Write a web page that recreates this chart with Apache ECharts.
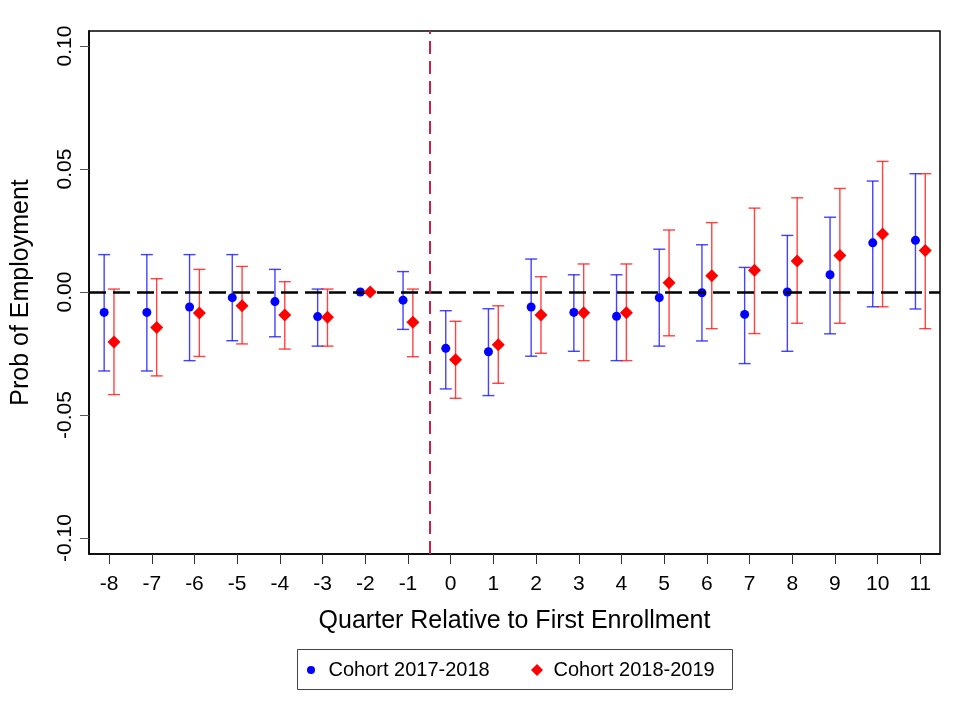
<!DOCTYPE html>
<html><head><meta charset="utf-8">
<script src="https://cdn.jsdelivr.net/npm/echarts@6/dist/echarts.min.js"></script>
<style>html,body{margin:0;padding:0;background:#fff}#chart{width:956px;height:706px}</style>
</head><body><div id="chart"></div>
<script>
// Quarters relative to first enrollment
const quarters = [-8,-7,-6,-5,-4,-3,-2,-1,0,1,2,3,4,5,6,7,8,9,10,11];
// Cohort 2017-2018 (blue)
const cohortA_est  = [-0.0083,-0.0083,-0.0061,-0.0023,-0.0039,-0.0100,0,-0.0033,-0.0229,-0.0243,-0.0061,-0.0083,-0.0099,-0.0023,-0.0003,-0.0091,0.0000,0.0070,0.0200,0.0210];
const cohortA_low  = [-0.0321,-0.0321,-0.0279,-0.0198,-0.0182,-0.0220,0,-0.0152,-0.0394,-0.0421,-0.0261,-0.0241,-0.0279,-0.0220,-0.0199,-0.0291,-0.0241,-0.0170,-0.0060,-0.0069];
const cohortA_high = [0.0152,0.0152,0.0152,0.0152,0.0092,0.0012,0,0.0083,-0.0076,-0.0068,0.0134,0.0070,0.0070,0.0174,0.0192,0.0100,0.0230,0.0304,0.0451,0.0481];
// Cohort 2018-2019 (red)
const cohortB_est  = [-0.0203,-0.0144,-0.0085,-0.0056,-0.0093,-0.0103,0,-0.0123,-0.0275,-0.0214,-0.0093,-0.0084,-0.0084,0.0038,0.0066,0.0088,0.0126,0.0148,0.0236,0.0169];
const cohortB_low  = [-0.0417,-0.0341,-0.0262,-0.0211,-0.0232,-0.0220,0,-0.0263,-0.0432,-0.0371,-0.0249,-0.0279,-0.0279,-0.0178,-0.0149,-0.0169,-0.0127,-0.0127,-0.0060,-0.0149];
const cohortB_high = [0.0012,0.0054,0.0092,0.0104,0.0042,0.0012,0,0.0012,-0.0119,-0.0056,0.0062,0.0114,0.0114,0.0252,0.0282,0.0341,0.0383,0.0421,0.0531,0.0481];
// Tick labels
const yTicks = [-0.10,-0.05,0.00,0.05,0.10];
const xTicks = quarters;
const seriesNames = ['Cohort 2017-2018','Cohort 2018-2019'];
const zeroLine = 0;
const enrollLine = -0.5;

const FONT = "'Liberation Sans', Arial, Helvetica, sans-serif";
const OFF = 0.115;
const BLUE = '#0000ff', RED = '#ff0000';

function errorBars(name, lo, hi, offset, color, z) {
  return {
    type: 'custom', name: name, z: z, silent: true,
    data: quarters.map((q, i) => [q + offset, lo[i], hi[i]]),
    encode: { x: 0, y: [1, 2] },
    renderItem: function (params, api) {
      const x = api.value(0), l = api.value(1), h = api.value(2);
      if (l === h) return null;
      const a = api.coord([x, l]), b = api.coord([x, h]);
      const cw = 6;
      const st = { stroke: color, lineWidth: 1.4 };
      return { type: 'group', children: [
        { type: 'line', shape: { x1: a[0], y1: a[1], x2: b[0], y2: b[1] }, style: st },
        { type: 'line', shape: { x1: a[0] - cw, y1: a[1], x2: a[0] + cw, y2: a[1] }, style: st },
        { type: 'line', shape: { x1: b[0] - cw, y1: b[1], x2: b[0] + cw, y2: b[1] }, style: st }
      ]};
    }
  };
}

const chart = echarts.init(document.getElementById('chart'), null, { renderer: 'canvas' });
chart.setOption({
  animation: false,
  backgroundColor: '#fff',
  textStyle: { fontFamily: FONT },
  grid: { left: 89, top: 31, width: 851, height: 523, show: true, borderColor: '#000', borderWidth: 1.5, backgroundColor: '#fff' },
  xAxis: {
    type: 'value', min: -8.47, max: 11.46,
    name: 'Quarter Relative to First Enrollment', nameLocation: 'middle', nameGap: 55,
    nameTextStyle: { fontSize: 25, color: '#000', fontFamily: FONT },
    axisLine: { show: true, onZero: false, lineStyle: { color: '#000', width: 1.5 } },
    axisTick: { show: true, length: 10, customValues: xTicks, lineStyle: { color: '#333', width: 1 } },
    axisLabel: { customValues: xTicks, fontSize: 21, color: '#000', margin: 20, fontFamily: FONT },
    splitLine: { show: false }
  },
  yAxis: {
    type: 'value', min: -0.1065, max: 0.1061,
    name: 'Prob of Employment', nameLocation: 'middle', nameGap: 55,
    nameTextStyle: { fontSize: 25, color: '#000', fontFamily: FONT },
    axisLine: { show: true, onZero: false, lineStyle: { color: '#000', width: 1.5 } },
    axisTick: { show: true, length: 9, customValues: yTicks, lineStyle: { color: '#555', width: 1 } },
    axisLabel: { customValues: yTicks, rotate: 90, fontSize: 21, color: '#000', margin: 13, fontFamily: FONT,
      formatter: v => v.toFixed(2) },
    splitLine: { show: false }
  },
  legend: [
    { data: [{ name: seriesNames[0], icon: 'circle' }], left: 307, top: 660, padding: 0,
      itemWidth: 25, itemHeight: 8, textStyle: { fontSize: 20, color: '#000', fontFamily: FONT } },
    { data: [{ name: seriesNames[1], icon: 'path://M0,-1L1,0L0,1L-1,0Z' }], left: 531, top: 660, padding: 0,
      itemWidth: 23, itemHeight: 12, textStyle: { fontSize: 20, color: '#000', fontFamily: FONT } }
  ],
  graphic: [
    { type: 'rect', shape: { x: 297.5, y: 649.5, width: 435, height: 40 }, style: { fill: 'none', stroke: '#444', lineWidth: 1 }, z: 100 }
  ],
  series: [
    errorBars('ciA', cohortA_low, cohortA_high, -OFF, 'rgba(20,20,255,0.8)', 2),
    {
      type: 'scatter', name: seriesNames[0], z: 3, symbol: 'circle', symbolSize: 9,
      itemStyle: { color: BLUE, opacity: 1 },
      data: quarters.map((q, i) => [q - OFF, cohortA_est[i]]),
      markLine: {
        silent: true, symbol: 'none', label: { show: false }, animation: false,
        data: [
          { yAxis: zeroLine, lineStyle: { color: '#000', width: 2.5, type: [17, 7] } },
          { xAxis: enrollLine, lineStyle: { color: '#cc1f48', width: 2, type: [13, 7] } }
        ]
      }
    },
    errorBars('ciB', cohortB_low, cohortB_high, OFF, 'rgba(255,20,20,0.8)', 4),
    {
      type: 'scatter', name: seriesNames[1], z: 5, symbol: 'diamond', symbolSize: 13,
      itemStyle: { color: RED, opacity: 1 },
      data: quarters.map((q, i) => [q + OFF, cohortB_est[i]])
    }
  ]
});
</script>
</body></html>
